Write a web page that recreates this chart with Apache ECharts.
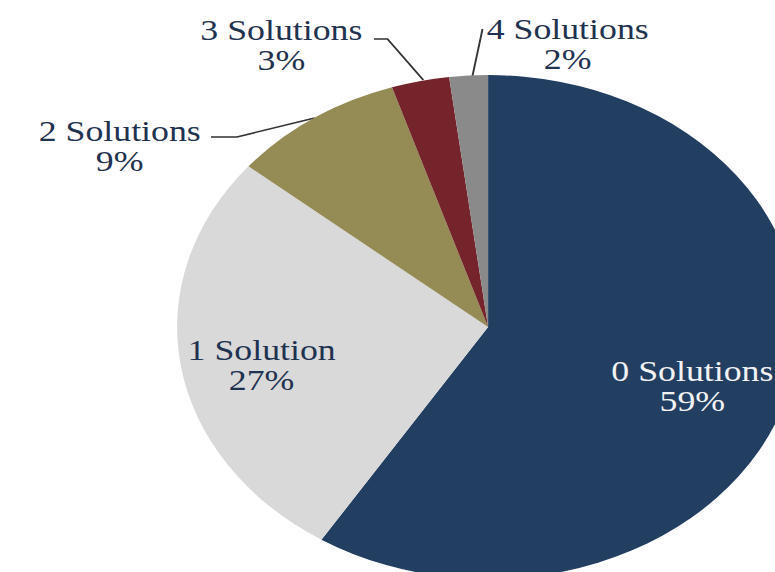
<!DOCTYPE html>
<html><head><meta charset="utf-8">
<script src="https://cdn.jsdelivr.net/npm/echarts@6/dist/echarts.min.js"></script>
<style>
html,body{margin:0;padding:0;background:#fff;overflow:hidden}
#wrap{width:775px;height:572px;overflow:hidden;position:relative;background:#fff}
#chart{width:628px;height:572px;transform:scaleX(1.2341);transform-origin:0 0}
</style></head><body>
<div id="wrap"><div id="chart"></div></div>
<script>
const categories = ['0 Solutions', '1 Solution', '2 Solutions', '3 Solutions', '4 Solutions'];
const values = [59, 27, 9, 3, 2];
const colors = ['#223F62', '#D9D9D9', '#958B55', '#74242A', '#8A8A8A'];

// label placement (unstretched chart coordinates)
const labelPlace = [
  { x: 561, y: 386 },
  { x: 212, y: 365 },
  { x: 97, y: 146, line: [[255, 118], [192, 137], [171, 137]] },
  { x: 228, y: 45, line: [[343, 80], [314, 39], [303, 39]] },
  { x: 460, y: 44, line: [[382.5, 78], [391, 29], [391, 29]] }
];

const chart = echarts.init(document.getElementById('chart'), null, { renderer: 'svg' });
const data = categories.map((name, i) => ({
  name: name,
  value: values[i],
  itemStyle: { color: colors[i] },
  label: { color: i === 0 ? '#F2F2F2' : '#1F3250' },
  labelLine: { show: i >= 2 }
}));

chart.setOption({
  animation: false,
  series: [{
    type: 'pie',
    center: [395.5, 327],
    radius: 252,
    startAngle: 90,
    clockwise: true,
    avoidLabelOverlap: false,
    itemStyle: { borderWidth: 0 },
    label: {
      show: true,
      position: 'outside',
      formatter: '{b}\n{c}%',
      fontFamily: 'Liberation Serif',
      fontSize: 29,
      lineHeight: 30,
      align: 'center'
    },
    labelLine: {
      show: true,
      lineStyle: { color: '#333333', width: 1.5 }
    },
    labelLayout: function (params) {
      const p = labelPlace[params.dataIndex];
      const out = { x: p.x, y: p.y, align: 'center', verticalAlign: 'middle' };
      if (p.line) out.labelLinePoints = p.line;
      return out;
    },
    emphasis: { disabled: true },
    data: data
  }]
});
</script>
</body></html>
